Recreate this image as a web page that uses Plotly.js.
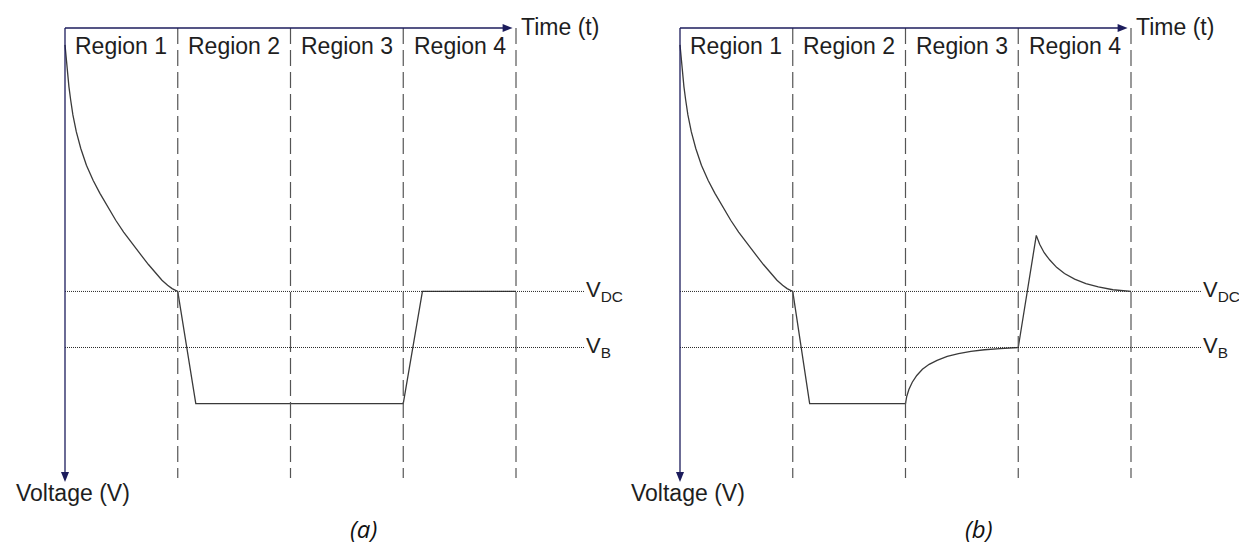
<!DOCTYPE html>
<html>
<head>
<meta charset="utf-8">
<script src="https://cdn.plot.ly/plotly-3.0.1.min.js"></script>
<style>
  html, body { margin: 0; padding: 0; background: #ffffff; }
  #chart { width: 1239px; height: 544px; }
</style>
</head>
<body>
<div id="chart"></div>
<script>
// Time regions: boundaries sit at whole time units
const regionNames = ['Region 1', 'Region 2', 'Region 3', 'Region 4'];
const regionEdges = [1, 2, 3, 4];

// Reference voltage levels (the voltage axis points downward)
const levelNames = ['V<sub>DC</sub>', 'V<sub>B</sub>'];
const levelValues = [4.7, 5.7];

// Panel (a): decay, drop, hold low, return to V_DC
const timeA = [0, 0.01, 0.02, 0.035, 0.05, 0.07, 0.10, 0.14, 0.19, 0.25, 0.31, 0.38, 0.45, 0.52,
               0.60, 0.67, 0.74, 0.80, 0.86, 0.91, 0.95, 1.00,
               1.16, 3.00, 3.17, 4.00];
const voltA = [0.30, 0.55, 0.78, 1.05, 1.28, 1.55, 1.85, 2.15, 2.45, 2.72, 2.95, 3.20, 3.43, 3.64,
               3.86, 4.04, 4.22, 4.37, 4.50, 4.59, 4.65, 4.70,
               6.70, 6.70, 4.70, 4.70];

// Panel (b): same start, recovery toward V_B, overshoot, settle at V_DC
const timeB = [0, 0.01, 0.02, 0.035, 0.05, 0.07, 0.10, 0.14, 0.19, 0.25, 0.31, 0.38, 0.45, 0.52,
               0.60, 0.67, 0.74, 0.80, 0.86, 0.91, 0.95, 1.00,
               1.15, 2.00,
               2.01, 2.03, 2.06, 2.10, 2.15, 2.21, 2.28, 2.37, 2.47, 2.58, 2.70, 2.84, 3.00,
               3.16, 3.19, 3.23, 3.28, 3.34, 3.41, 3.50, 3.60, 3.71, 3.84, 4.00];
const voltB = [0.30, 0.55, 0.78, 1.05, 1.28, 1.55, 1.85, 2.15, 2.45, 2.72, 2.95, 3.20, 3.43, 3.64,
               3.86, 4.04, 4.22, 4.37, 4.50, 4.59, 4.65, 4.70,
               6.70, 6.70,
               6.58, 6.45, 6.32, 6.20, 6.09, 6.00, 5.93, 5.86, 5.81, 5.77, 5.74, 5.72, 5.70,
               3.70, 3.86, 4.01, 4.14, 4.27, 4.38, 4.48, 4.56, 4.62, 4.67, 4.70];

const panelLabels = ['(a)', '(b)'];
const axisNames = ['Time (t)', 'Voltage (V)'];

// ---- geometry (pixels) ----
const W = 1239, H = 544;
const pxPerT = 112.75;       // one time unit
const pxPerV = 56.05;        // one voltage unit
const topPx = 28;            // time axis row
const originPx = [65, 680];  // voltage axis column of each panel
const split = 619.5;

const yRange = [(H - topPx) / pxPerV, -topPx / pxPerV];
const xRangeA = [-originPx[0] / pxPerT, (split - originPx[0]) / pxPerT];
const xRangeB = [(split - originPx[1]) / pxPerT, (W - originPx[1]) / pxPerT];

const axisColor = '#1c1c5c';
const curveColor = '#3a3a3a';
const textFont = { family: 'Liberation Sans, Arial, sans-serif', size: 23, color: '#1e1e1e' };
const levelFont = { family: 'Liberation Sans, Arial, sans-serif', size: 22, color: '#1e1e1e' };

const timeTip = 3.97;        // end of the time arrow
const voltTip = 8.10;        // end of the voltage arrow
const dashEnd = 8.03;        // bottom of the region dividers
const levelEnd = [4.61, 4.63];

// arrowhead size in axis units
const headLenT = 10 / pxPerT, headHalfV = 4 / pxPerV;
const headLenV = 10 / pxPerV, headHalfT = 4 / pxPerT;

const traces = [
  { x: timeA, y: voltA, xaxis: 'x', yaxis: 'y', mode: 'lines',
    line: { color: curveColor, width: 1.3 }, hoverinfo: 'skip' },
  { x: timeB, y: voltB, xaxis: 'x2', yaxis: 'y', mode: 'lines',
    line: { color: curveColor, width: 1.3 }, hoverinfo: 'skip' }
];

const shapes = [];
const annotations = [];
['x', 'x2'].forEach((xr, p) => {
  // region dividers
  regionEdges.forEach(e => {
    shapes.push({ type: 'line', xref: xr, yref: 'y', x0: e, x1: e, y0: 0, y1: dashEnd,
      line: { color: '#555555', width: 1.2, dash: '16px,6px' } });
  });
  // reference levels
  levelValues.forEach((v, i) => {
    shapes.push({ type: 'line', xref: xr, yref: 'y', x0: 0, x1: levelEnd[p], y0: v, y1: v,
      line: { color: '#2a2a2a', width: 1, dash: '1px,1px' } });
    annotations.push({ xref: xr, yref: 'y', x: levelEnd[p] - 0.005, y: v, text: levelNames[i],
      showarrow: false, xanchor: 'left', yanchor: 'middle', font: levelFont });
  });
  // region names
  regionNames.forEach((n, i) => {
    annotations.push({ xref: xr, yref: 'y', x: i + 0.5, y: 0.32, text: n,
      showarrow: false, xanchor: 'center', yanchor: 'middle', font: textFont });
  });
  // time axis and voltage axis with arrowheads
  shapes.push({ type: 'line', xref: xr, yref: 'y', x0: 0, x1: timeTip - headLenT * 0.6, y0: 0, y1: 0,
    line: { color: axisColor, width: 1.3 } });
  shapes.push({ type: 'line', xref: xr, yref: 'y', x0: 0, x1: 0, y0: 0, y1: voltTip - headLenV * 0.6,
    line: { color: axisColor, width: 1.3 } });
  shapes.push({ type: 'path', xref: xr, yref: 'y', line: { width: 0 }, fillcolor: axisColor,
    path: `M ${timeTip} 0 L ${timeTip - headLenT} ${-headHalfV} L ${timeTip - headLenT} ${headHalfV} Z` });
  shapes.push({ type: 'path', xref: xr, yref: 'y', line: { width: 0 }, fillcolor: axisColor,
    path: `M 0 ${voltTip} L ${-headHalfT} ${voltTip - headLenV} L ${headHalfT} ${voltTip - headLenV} Z` });
  annotations.push({ xref: xr, yref: 'y', x: timeTip + 0.06, y: -0.02, text: axisNames[0],
    showarrow: false, xanchor: 'left', yanchor: 'middle', font: textFont });
  annotations.push({ xref: xr, yref: 'y', x: 0.067, y: 8.30, text: axisNames[1],
    showarrow: false, xanchor: 'center', yanchor: 'middle', font: textFont });
  // panel caption
  annotations.push({ xref: xr, yref: 'y', x: 2.65, y: 8.93, text: '<i>' + panelLabels[p] + '</i>',
    showarrow: false, xanchor: 'center', yanchor: 'middle',
    font: { family: 'Open Sans, Lato, sans-serif', size: 24, color: '#111111' } });
});

const hidden = { visible: false, showgrid: false, zeroline: false, fixedrange: true };
const layout = {
  width: W, height: H,
  margin: { l: 0, r: 0, t: 0, b: 0 },
  paper_bgcolor: '#ffffff', plot_bgcolor: '#ffffff',
  showlegend: false, hovermode: false,
  xaxis: Object.assign({ domain: [0, split / W], range: xRangeA, anchor: 'y' }, hidden),
  xaxis2: Object.assign({ domain: [split / W, 1], range: xRangeB, anchor: 'y' }, hidden),
  yaxis: Object.assign({ domain: [0, 1], range: yRange, anchor: 'x' }, hidden),
  shapes: shapes,
  annotations: annotations
};

Plotly.newPlot('chart', traces, layout, { staticPlot: true, displayModeBar: false });
</script>
</body>
</html>
